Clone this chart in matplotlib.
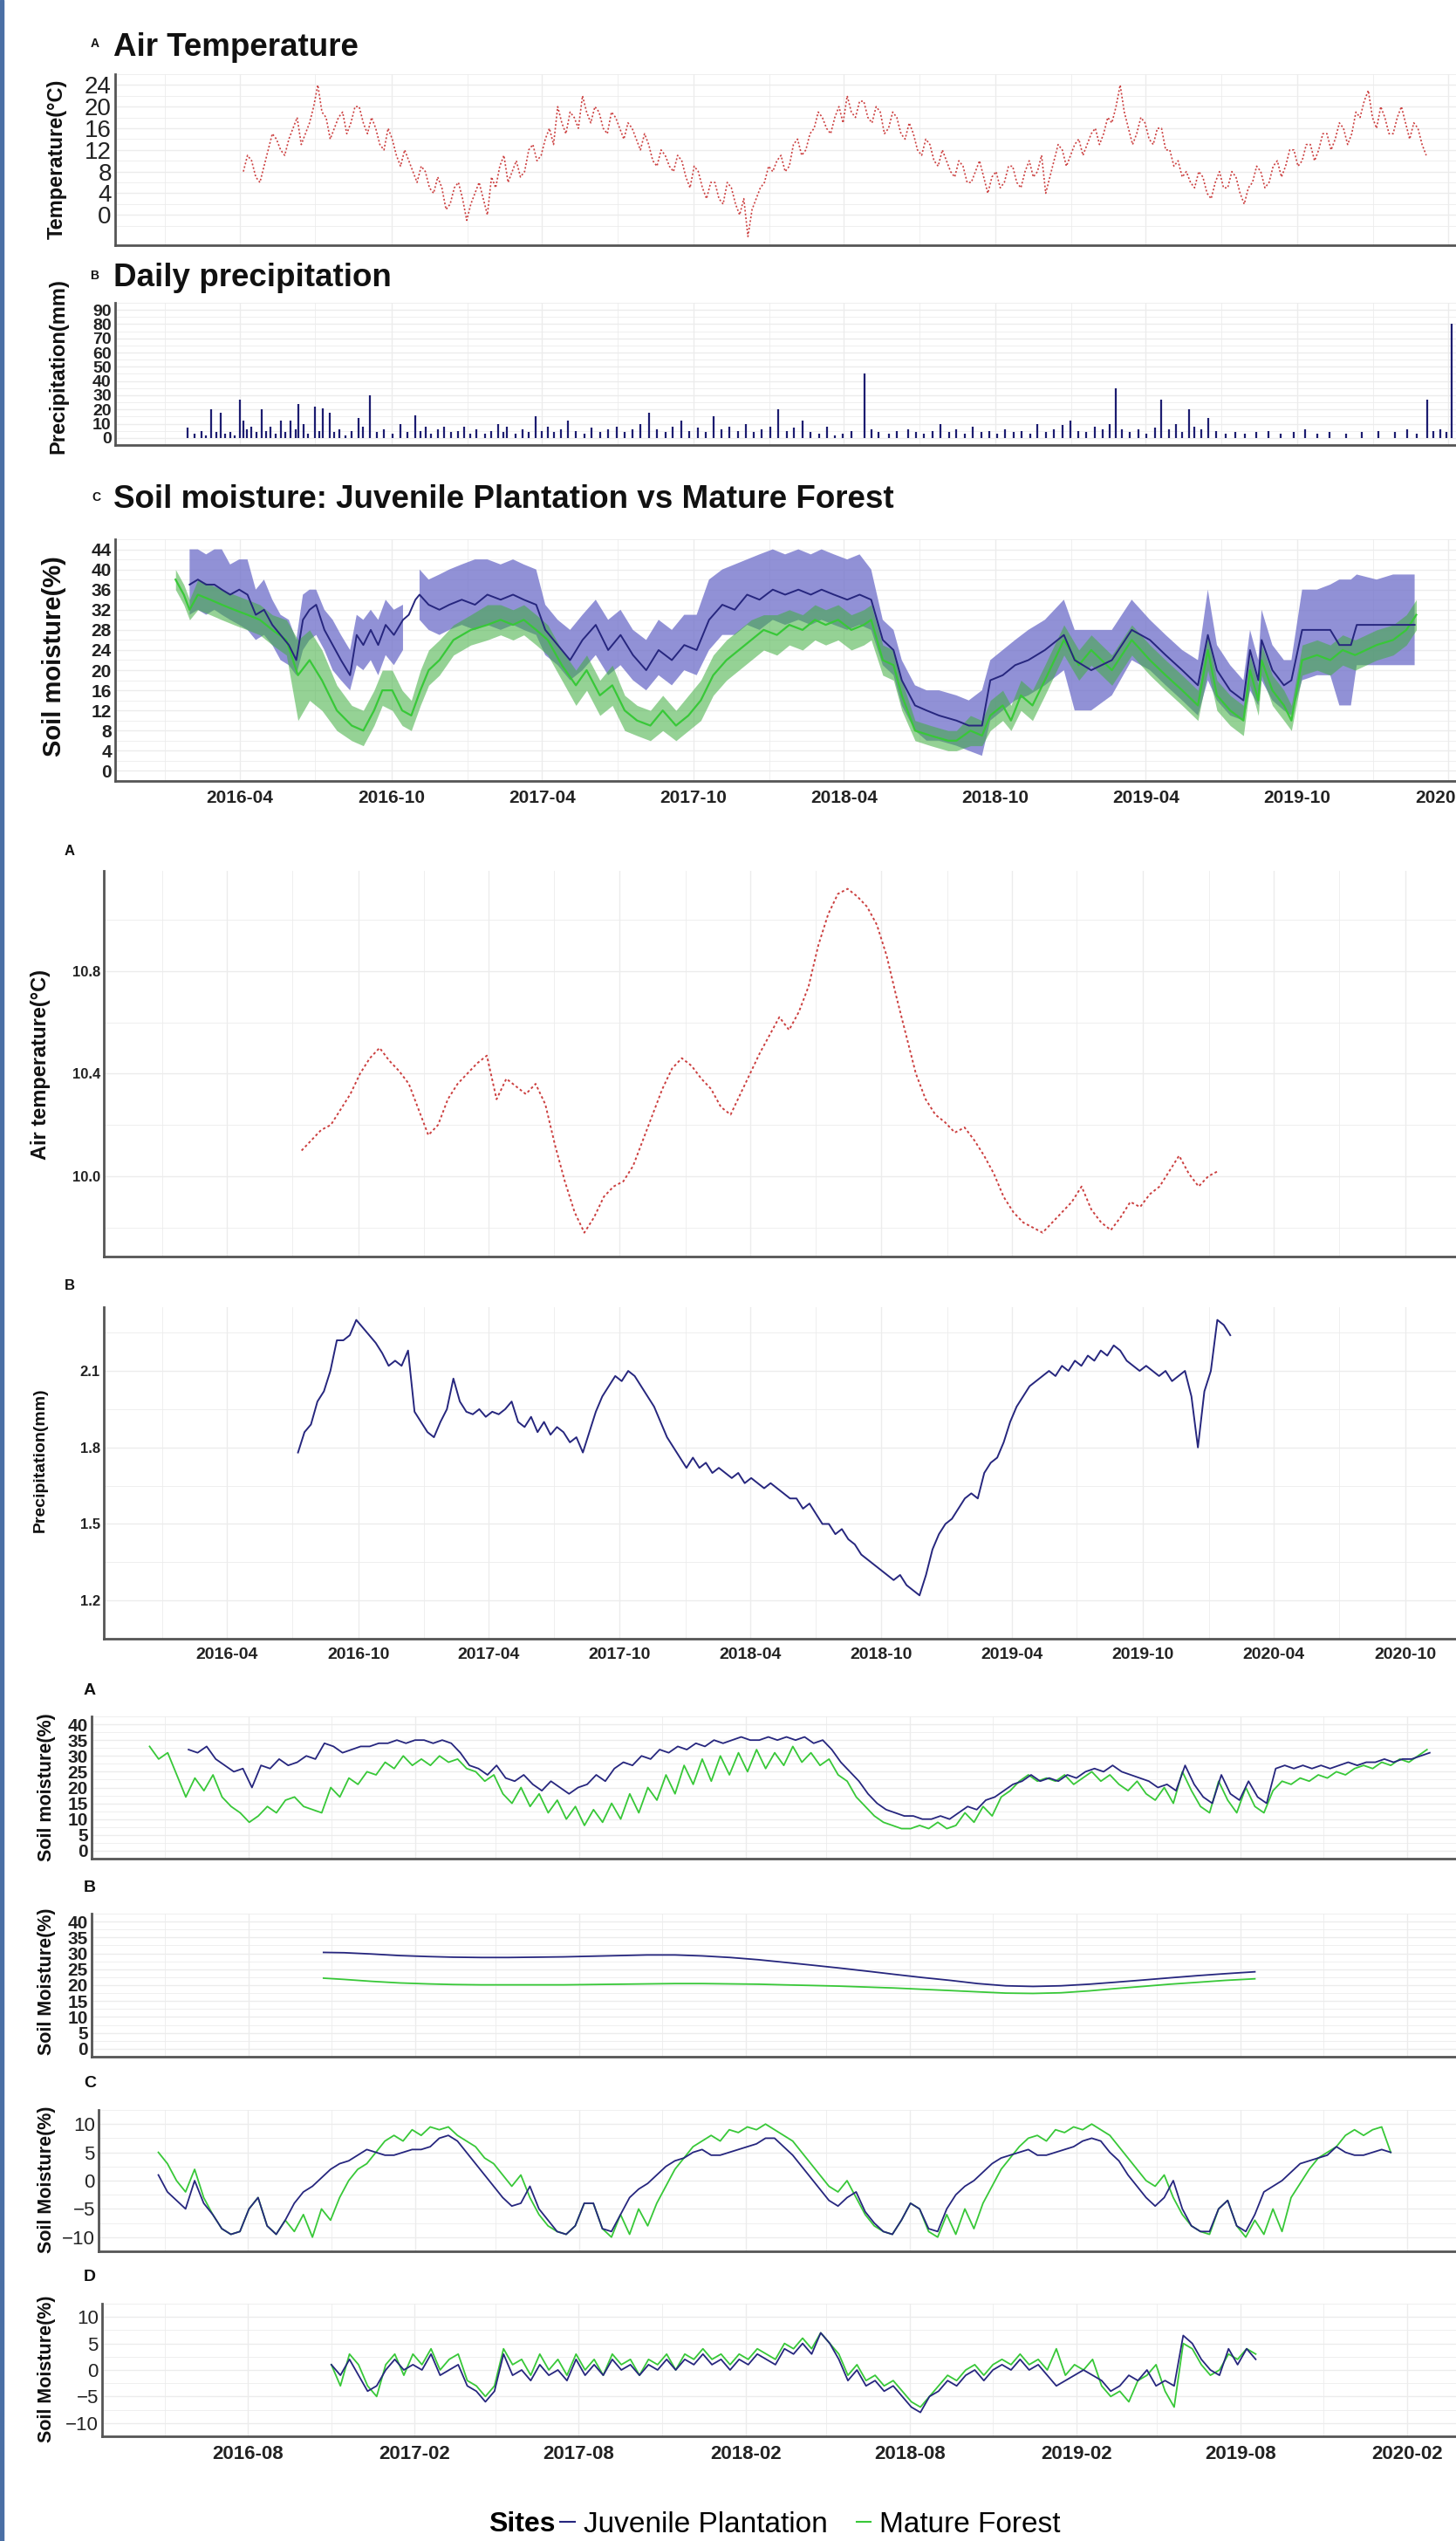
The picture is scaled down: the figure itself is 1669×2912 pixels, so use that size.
import numpy as np
import pandas as pd
import matplotlib
matplotlib.use('Agg')
import matplotlib.pyplot as plt
import matplotlib.dates as mdates
from matplotlib.lines import Line2D
from matplotlib.patches import Rectangle

plt.rcParams['font.family'] = ['Liberation Sans', 'DejaVu Sans']

# ---------------- data ----------------
# top figure, panel A: daily air temperature (5-day samples)
temp_start = '2016-04-05'
temp_c = [8, 11, 10, 7, 6, 9, 12, 15, 14, 12, 11, 14, 16, 18, 13, 15, 17, 20, 24, 19,
          18, 14, 16, 18, 19, 15, 17, 20, 20, 17, 15, 18, 16, 13, 12, 16, 14, 11, 9, 12,
          10, 8, 6, 9, 8, 5, 4, 7, 5, 1, 2, 5, 6, 3, -1, 2, 4, 6, 3, 0,
          7, 5, 9, 11, 6, 8, 10, 7, 8, 12, 13, 10, 11, 14, 16, 13, 20, 17, 15, 19,
          18, 16, 22, 19, 17, 20, 19, 16, 15, 19, 18, 16, 14, 17, 16, 14, 12, 15, 13, 10,
          9, 12, 11, 9, 8, 11, 10, 7, 5, 9, 8, 5, 3, 6, 6, 3, 2, 6, 5, 2,
          0, 3, -4, 1, 3, 5, 6, 9, 8, 10, 11, 8, 9, 13, 14, 11, 12, 15, 16, 19,
          18, 16, 15, 18, 20, 17, 22, 19, 18, 21, 21, 18, 17, 20, 19, 15, 16, 19, 18, 15,
          14, 17, 15, 12, 11, 14, 13, 10, 9, 12, 10, 8, 7, 10, 9, 6, 6, 8, 10, 7,
          4, 7, 8, 5, 6, 9, 9, 6, 5, 8, 10, 7, 8, 11, 4, 7, 10, 13, 12, 9,
          11, 13, 14, 11, 13, 15, 16, 13, 15, 18, 17, 20, 24, 19, 16, 13, 15, 18, 17, 14,
          13, 16, 16, 12, 12, 9, 10, 7, 8, 6, 5, 8, 7, 4, 3, 6, 8, 5, 5, 8,
          7, 4, 2, 5, 6, 9, 8, 5, 6, 9, 10, 7, 9, 12, 12, 9, 10, 13, 13, 10,
          12, 15, 15, 12, 14, 17, 16, 13, 15, 19, 18, 21, 23, 18, 16, 20, 18, 15, 15, 18,
          20, 17, 14, 17, 16, 13, 11]

# top figure, panel B: daily precipitation events (day of record since 2016-01-01, mm)
precip_day = [28, 36, 44, 50, 56, 62, 68, 73, 79, 85, 91, 95, 99, 105, 111, 117, 122, 128, 134, 140,
              146, 152, 158, 162, 168, 173, 181, 187, 191, 199, 205, 211, 218, 226, 234, 240, 248, 256, 265, 275,
              285, 293, 303, 309, 315, 322, 330, 338, 346, 354, 362, 369, 377, 387, 395, 403, 409, 414, 424, 432,
              440, 448, 456, 463, 471, 479, 487, 497, 507, 516, 526, 536, 546, 556, 565, 575, 585, 595, 605, 614,
              624, 634, 644, 654, 663, 673, 683, 693, 703, 712, 722, 732, 742, 752, 761, 771, 781, 791, 801, 810,
              820, 830, 846, 854, 863, 875, 885, 899, 908, 918, 928, 938, 948, 957, 967, 977, 987, 997, 1006, 1016,
              1026, 1036, 1046, 1055, 1065, 1075, 1085, 1095, 1104, 1114, 1124, 1134, 1142, 1150, 1157, 1167, 1177, 1187, 1197, 1205,
              1214, 1222, 1230, 1238, 1245, 1253, 1261, 1271, 1283, 1294, 1306, 1320, 1334, 1349, 1365, 1379, 1393, 1408, 1428, 1447,
              1467, 1487, 1502, 1514, 1526, 1534, 1542, 1549, 1556]
precip_mm = [7, 3, 5, 2, 20, 4, 18, 3, 4, 2, 27, 12, 6, 8, 4, 20, 5, 8, 3, 12,
             4, 12, 6, 24, 10, 3, 22, 5, 21, 18, 4, 6, 2, 5, 14, 8, 30, 4, 6, 3,
             10, 4, 16, 5, 8, 3, 6, 8, 4, 5, 8, 3, 6, 3, 5, 10, 4, 8, 3, 6,
             4, 15, 5, 8, 4, 6, 12, 5, 3, 7, 4, 6, 8, 4, 6, 10, 18, 6, 4, 8,
             12, 5, 7, 4, 15, 6, 8, 5, 10, 4, 6, 8, 20, 5, 7, 12, 4, 3, 8, 2,
             3, 5, 45, 6, 4, 3, 5, 6, 4, 3, 5, 10, 4, 6, 3, 8, 4, 5, 3, 6,
             4, 5, 3, 10, 4, 6, 9, 12, 5, 4, 8, 6, 10, 35, 6, 4, 6, 3, 7, 27,
             6, 10, 4, 20, 8, 6, 14, 5, 3, 4, 3, 4, 5, 3, 4, 6, 3, 4, 3, 4,
             5, 4, 6, 3, 27, 5, 6, 4, 80]

# top figure, panel C: soil moisture mean and range, Juvenile Plantation
jp_dates = ['2016-01-31', '2016-02-10', '2016-02-20', '2016-03-01', '2016-03-10', '2016-03-20', '2016-03-31',
            '2016-04-10', '2016-04-20', '2016-04-30', '2016-05-10', '2016-05-20', '2016-05-30', '2016-06-08',
            '2016-06-16', '2016-06-24', '2016-07-02', '2016-07-12', '2016-07-22', '2016-08-01', '2016-08-12',
            '2016-08-20', '2016-08-28', '2016-09-06', '2016-09-15', '2016-09-24', '2016-10-04', '2016-10-15',
            '2016-10-22', '2016-10-30', '2016-11-04', '2016-11-15', '2016-11-28', '2016-12-10', '2016-12-25',
            '2017-01-10', '2017-01-25', '2017-02-10', '2017-02-25', '2017-03-10', '2017-03-25', '2017-04-05',
            '2017-04-20', '2017-05-05', '2017-05-20', '2017-06-05', '2017-06-20', '2017-07-05', '2017-07-20',
            '2017-08-05', '2017-08-20', '2017-09-05', '2017-09-20', '2017-10-05', '2017-10-20', '2017-11-05',
            '2017-11-20', '2017-12-05', '2017-12-20', '2018-01-05', '2018-01-20', '2018-02-05', '2018-02-20',
            '2018-03-05', '2018-03-20', '2018-04-05', '2018-04-20', '2018-05-04', '2018-05-18', '2018-05-31',
            '2018-06-10', '2018-06-26', '2018-07-10', '2018-07-25', '2018-08-15', '2018-08-30', '2018-09-15',
            '2018-09-25', '2018-10-10', '2018-10-25', '2018-11-10', '2018-11-30', '2018-12-23', '2019-01-05',
            '2019-01-25', '2019-02-19', '2019-03-15', '2019-04-06', '2019-04-25', '2019-05-15', '2019-06-03',
            '2019-06-15', '2019-06-26', '2019-07-12', '2019-07-28', '2019-08-05', '2019-08-15', '2019-08-19',
            '2019-09-01', '2019-09-15', '2019-09-24', '2019-10-07', '2019-10-25', '2019-11-10', '2019-11-21',
            '2019-12-05', '2019-12-12', '2020-01-05', '2020-01-25', '2020-02-20']
jp_mean = [37, 38, 37, 37, 36, 35, 36, 35, 31, 32, 29, 27, 25, 22, 30, 32, 33, 28, 25, 22, 19,
           27, 25, 28, 25, 29, 27, 30, 31, 34, 35, 33, 32, 33, 34, 33, 35, 34, 35, 34, 33, 28,
           25, 22, 26, 29, 24, 27, 23, 20, 24, 22, 25, 24, 30, 33, 32, 35, 34, 36, 35, 36, 35,
           36, 35, 34, 35, 34, 26, 24, 18, 13, 12, 11, 10, 9, 9, 18, 19, 21, 22, 24, 27, 22,
           20, 22, 28, 26, 23, 20, 17, 27, 20, 16, 14, 24, 18, 26, 20, 17, 18, 28, 28, 28, 25,
           25, 29, 29, 29, 29]
jp_lo = [31, 32, 31, 32, 31, 30, 29, 28, 26, 27, 25, 22, 21, 19, 24, 26, 27, 24, 20, 18, 16,
         21, 20, 22, 19, 23, 21, 24, np.nan, np.nan, 30, 28, 27, 28, 29, 28, 29, 28, 29, 28, 27, 23,
         21, 18, 20, 23, 19, 21, 18, 16, 19, 17, 20, 19, 24, 27, 27, 29, 28, 30, 29, 30, 29,
         30, 29, 28, 29, 28, 21, 19, 13, 8, 6, 6, 5, 4, 3, 10, 12, 14, 15, 17, 20, 12,
         12, 15, 22, 20, 17, 14, 11, 18, 14, 11, 10, 16, 13, 18, 14, 12, 11, 18, 19, 19, 13,
         13, 21, 21, 21, 21]
jp_hi = [44, 44, 43, 44, 44, 41, 42, 42, 36, 38, 34, 31, 30, 26, 35, 36, 36, 32, 30, 27, 24,
         31, 30, 32, 30, 34, 32, 33, np.nan, np.nan, 40, 38, 39, 40, 41, 42, 42, 41, 42, 41, 40, 33,
         30, 28, 31, 34, 30, 32, 28, 26, 30, 28, 31, 31, 38, 40, 41, 42, 43, 44, 43, 44, 43,
         44, 43, 42, 43, 40, 30, 28, 22, 17, 16, 16, 15, 14, 16, 22, 24, 26, 28, 30, 34, 28,
         28, 28, 34, 30, 27, 24, 22, 36, 25, 21, 18, 28, 22, 32, 25, 22, 22, 36, 36, 37, 38,
         38, 39, 38, 39, 39]

# top figure, panel C: soil moisture mean and range, Mature Forest
mf_dates = ['2016-01-14', '2016-01-24', '2016-01-31', '2016-02-10', '2016-02-25', '2016-03-10', '2016-03-25',
            '2016-04-10', '2016-04-25', '2016-05-10', '2016-05-27', '2016-06-10', '2016-06-24', '2016-07-09',
            '2016-07-27', '2016-08-14', '2016-08-28', '2016-09-10', '2016-09-20', '2016-10-02', '2016-10-14',
            '2016-10-25', '2016-11-05', '2016-11-15', '2016-11-28', '2016-12-15', '2017-01-05', '2017-01-25',
            '2017-02-10', '2017-02-25', '2017-03-10', '2017-03-25', '2017-04-08', '2017-04-25', '2017-05-12',
            '2017-05-25', '2017-06-10', '2017-06-25', '2017-07-10', '2017-07-25', '2017-08-10', '2017-08-25',
            '2017-09-10', '2017-09-25', '2017-10-10', '2017-10-25', '2017-11-10', '2017-11-25', '2017-12-10',
            '2017-12-25', '2018-01-10', '2018-01-25', '2018-02-10', '2018-02-25', '2018-03-10', '2018-03-25',
            '2018-04-10', '2018-04-25', '2018-05-04', '2018-05-18', '2018-05-31', '2018-06-10', '2018-06-26',
            '2018-07-15', '2018-08-05', '2018-08-15', '2018-09-01', '2018-09-15', '2018-09-25', '2018-10-10',
            '2018-10-20', '2018-11-01', '2018-11-15', '2018-11-30', '2018-12-23', '2019-01-10', '2019-01-25',
            '2019-02-19', '2019-03-15', '2019-04-06', '2019-04-25', '2019-05-15', '2019-06-03', '2019-06-15',
            '2019-06-26', '2019-07-12', '2019-07-28', '2019-08-05', '2019-08-15', '2019-08-19', '2019-09-01',
            '2019-09-15', '2019-09-24', '2019-10-07', '2019-10-25', '2019-11-10', '2019-11-25', '2019-12-10',
            '2020-01-05', '2020-01-25', '2020-02-10', '2020-02-22']
mf_mean = [38, 35, 32, 35, 34, 33, 32, 31, 30, 28, 26, 19, 22, 18, 12, 9, 8, 12, 16, 16, 12,
           11, 16, 20, 22, 26, 28, 29, 30, 29, 30, 28, 26, 21, 17, 20, 15, 17, 12, 10, 9, 12,
           9, 11, 14, 19, 22, 24, 26, 28, 27, 29, 28, 30, 29, 30, 28, 29, 30, 22, 21, 15, 8,
           7, 6, 6, 8, 7, 11, 13, 10, 15, 13, 18, 26, 21, 24, 20, 26, 22, 19, 16, 13, 24,
           15, 12, 10, 20, 14, 22, 16, 13, 10, 22, 23, 22, 24, 23, 25, 26, 28, 31]
mf_lo = [36, 33, 30, 32, 31, 30, 29, 28, 27, 25, 23, 10, 14, 12, 8, 6, 5, 9, 13, 12, 9,
         8, 13, 17, 19, 23, 25, 26, 27, 26, 27, 25, 23, 18, 13, 16, 11, 13, 8, 7, 6, 8,
         6, 8, 10, 15, 18, 20, 22, 24, 23, 25, 24, 26, 25, 26, 24, 25, 26, 19, 18, 12, 6,
         5, 4, 4, 5, 5, 8, 10, 8, 12, 10, 15, 23, 18, 21, 17, 23, 19, 16, 13, 10, 20,
         12, 9, 7, 17, 11, 19, 13, 10, 8, 19, 20, 19, 21, 20, 22, 23, 25, 28]
mf_hi = [40, 37, 34, 38, 37, 36, 35, 34, 33, 31, 30, 26, 28, 24, 17, 13, 12, 16, 20, 20, 16,
         14, 20, 24, 26, 29, 31, 33, 33, 32, 33, 31, 29, 24, 20, 23, 18, 21, 15, 13, 12, 15,
         12, 15, 18, 23, 26, 28, 30, 31, 31, 32, 31, 33, 32, 33, 31, 32, 33, 25, 24, 18, 10,
         9, 8, 8, 11, 10, 14, 16, 13, 18, 16, 21, 29, 24, 27, 23, 29, 25, 22, 19, 16, 27,
         18, 15, 13, 23, 17, 25, 19, 16, 13, 25, 26, 25, 27, 26, 28, 29, 31, 34]

# middle figure, panel A: rolling mean air temperature
tmean_span = ('2016-07-14', '2020-01-14')
tmean_c = [10.10, 10.14, 10.18, 10.20, 10.26, 10.32, 10.40, 10.46, 10.50, 10.45,
           10.41, 10.36, 10.26, 10.16, 10.20, 10.30, 10.36, 10.40, 10.44, 10.47,
           10.30, 10.38, 10.35, 10.32, 10.36, 10.28, 10.12, 9.98, 9.86, 9.78,
           9.84, 9.92, 9.96, 9.98, 10.04, 10.14, 10.24, 10.34, 10.42, 10.46,
           10.43, 10.38, 10.34, 10.27, 10.24, 10.32, 10.40, 10.48, 10.55, 10.62,
           10.57, 10.64, 10.74, 10.90, 11.02, 11.10, 11.12, 11.09, 11.05, 10.98,
           10.86, 10.70, 10.55, 10.40, 10.30, 10.24, 10.21, 10.17, 10.19, 10.14,
           10.08, 10.01, 9.92, 9.86, 9.82, 9.80, 9.78, 9.82, 9.86, 9.90,
           9.96, 9.87, 9.82, 9.79, 9.84, 9.90, 9.88, 9.93, 9.96, 10.02,
           10.08, 10.01, 9.96, 10.00, 10.02]

# middle figure, panel B: rolling mean precipitation
pmean_span = ('2016-07-09', '2020-01-31')
pmean_mm = [1.78, 1.86, 1.89, 1.98, 2.02, 2.10, 2.22, 2.22, 2.24, 2.30,
            2.27, 2.24, 2.21, 2.17, 2.12, 2.14, 2.12, 2.18, 1.94, 1.90,
            1.86, 1.84, 1.90, 1.95, 2.07, 1.98, 1.94, 1.93, 1.95, 1.92,
            1.94, 1.93, 1.95, 1.98, 1.90, 1.88, 1.92, 1.86, 1.90, 1.85,
            1.88, 1.86, 1.82, 1.84, 1.78, 1.86, 1.94, 2.00, 2.04, 2.08,
            2.06, 2.10, 2.08, 2.04, 2.00, 1.96, 1.90, 1.84, 1.80, 1.76,
            1.72, 1.76, 1.72, 1.74, 1.70, 1.72, 1.70, 1.68, 1.70, 1.66,
            1.68, 1.66, 1.64, 1.66, 1.64, 1.62, 1.60, 1.60, 1.56, 1.58,
            1.54, 1.50, 1.50, 1.46, 1.48, 1.44, 1.42, 1.38, 1.36, 1.34,
            1.32, 1.30, 1.28, 1.30, 1.26, 1.24, 1.22, 1.30, 1.40, 1.46,
            1.50, 1.52, 1.56, 1.60, 1.62, 1.60, 1.70, 1.74, 1.76, 1.82,
            1.90, 1.96, 2.00, 2.04, 2.06, 2.08, 2.10, 2.08, 2.12, 2.10,
            2.14, 2.12, 2.16, 2.14, 2.18, 2.16, 2.20, 2.18, 2.14, 2.12,
            2.10, 2.12, 2.10, 2.08, 2.10, 2.06, 2.08, 2.10, 2.00, 1.80,
            2.02, 2.10, 2.30, 2.28, 2.24]

# bottom figure, panel A: soil moisture series (10-day samples)
sm_jp_start = '2016-05-27'
sm_jp = [32, 31, 33, 29, 27, 25, 26, 20, 27, 26, 29, 27, 28, 30, 29, 34, 33, 31, 32, 33,
         33, 34, 34, 35, 34, 35, 35, 34, 35, 34, 31, 27, 26, 24, 27, 23, 22, 24, 21, 19,
         22, 20, 18, 20, 21, 24, 22, 26, 28, 27, 30, 29, 32, 31, 33, 32, 34, 33, 35, 34,
         35, 36, 35, 35, 36, 35, 36, 35, 36, 34, 35, 32, 28, 25, 22, 18, 15, 13, 12, 11,
         11, 10, 10, 11, 10, 12, 14, 13, 16, 17, 19, 21, 22, 24, 22, 23, 22, 24, 23, 25,
         26, 25, 27, 25, 24, 23, 22, 20, 21, 19, 27, 21, 17, 15, 24, 18, 16, 22, 17, 15,
         26, 27, 26, 27, 26, 27, 26, 27, 28, 27, 28, 28, 29, 28, 29, 29, 30, 31]
sm_mf_start = '2016-04-14'
sm_mf = [33, 29, 31, 24, 17, 23, 19, 24, 17, 14, 12, 9, 11, 14, 12, 16, 17, 14, 13, 12,
         20, 17, 23, 21, 25, 24, 28, 26, 30, 27, 29, 27, 30, 28, 29, 26, 25, 22, 24, 18,
         15, 20, 14, 18, 12, 16, 10, 14, 8, 13, 9, 15, 10, 18, 12, 20, 16, 24, 18, 27,
         21, 29, 22, 30, 24, 31, 25, 32, 26, 31, 27, 33, 28, 31, 27, 29, 24, 22, 17, 14,
         11, 9, 8, 7, 7, 8, 7, 9, 7, 8, 12, 9, 14, 11, 17, 19, 22, 24, 22, 23,
         22, 24, 21, 23, 25, 22, 24, 21, 19, 22, 18, 16, 20, 15, 25, 19, 14, 12, 22, 16,
         12, 20, 14, 12, 19, 22, 21, 23, 22, 24, 23, 25, 24, 26, 27, 26, 28, 27, 29, 28,
         30, 32]

# bottom figure, panel B: trend component
trend_dates = ['2016-10-23', '2016-11-15', '2016-12-15', '2017-01-15', '2017-02-15', '2017-03-15',
               '2017-04-15', '2017-05-15', '2017-06-15', '2017-07-15', '2017-08-15', '2017-09-15',
               '2017-10-15', '2017-11-15', '2017-12-15', '2018-01-15', '2018-02-15', '2018-03-15',
               '2018-04-15', '2018-05-15', '2018-06-15', '2018-07-15', '2018-08-15', '2018-09-15',
               '2018-10-15', '2018-11-15', '2018-12-15', '2019-01-15', '2019-02-15', '2019-03-15',
               '2019-04-15', '2019-05-15', '2019-06-15', '2019-07-15', '2019-08-17']
trend_jp = [30.3, 30.2, 29.8, 29.3, 29.0, 28.8, 28.7, 28.7, 28.8, 28.9, 29.1, 29.3,
            29.5, 29.5, 29.2, 28.7, 28.0, 27.2, 26.3, 25.4, 24.4, 23.4, 22.4, 21.5,
            20.5, 19.8, 19.6, 19.8, 20.3, 20.9, 21.6, 22.3, 23.0, 23.6, 24.2]
trend_mf = [22.2, 21.8, 21.2, 20.7, 20.4, 20.2, 20.1, 20.1, 20.1, 20.1, 20.2, 20.3,
            20.4, 20.5, 20.5, 20.4, 20.3, 20.1, 19.9, 19.7, 19.4, 19.1, 18.7, 18.3,
            17.9, 17.5, 17.4, 17.6, 18.2, 18.9, 19.6, 20.3, 20.9, 21.5, 22.0]

# bottom figure, panel C: seasonal component (10-day samples)
seas_start = '2016-04-24'
seas_jp = [1, -2, -3.5, -5, 0, -4, -6, -8.5, -9.5, -9, -5, -3, -8, -9.5, -7, -4, -2, -1, 0.5, 2,
           3, 3.5, 4.5, 5.5, 5, 4.5, 4.5, 5, 5.5, 5.5, 6, 7.5, 8, 7, 5, 3, 1,
           -1, -3, -4.5, -4, -1, -5, -7, -9, -9.5, -8, -4, -4, -8.5, -9, -6, -3, -1.5, -0.5, 1,
           2.5, 3.5, 4, 5, 5.5, 4.5, 4.5, 5, 5.5, 6, 6.5, 7.5, 7.5, 6, 4.5, 2.5, 0.5,
           -1.5, -3.5, -4.5, -3, -2, -5.5, -7.5, -9, -9.5, -7, -4, -5, -8.5, -9, -5, -2.5, -1, 0,
           1.5, 3, 4, 4.5, 5, 5.5, 4.5, 4.5, 5, 5.5, 6, 7, 7.5, 7, 5, 3.5, 1, -1,
           -3, -4.5, -3, 0, -5, -8, -9, -9, -5, -3.5, -8, -9, -6, -2, -1, 0, 1.5, 3, 3.5,
           4, 4.5, 6, 5, 4.5, 4.5, 5, 5.5, 5]
seas_mf = [5, 3, 0, -2, 2, -3, -6, -8.5, -9.5, -9, -5, -3, -8, -9.5, -7, -9, -6, -10, -5, -7,
           -3, 0, 2, 3, 5, 7, 8, 7, 9, 8, 9.5, 9, 9.5, 8, 7, 6, 4,
           3, 1, -1, 1, -3, -6, -8, -9, -9.5, -8, -4, -4, -8.5, -10, -6, -9.5, -5, -8, -4,
           -1, 2, 4, 6, 7, 8, 7, 9, 8.5, 9.5, 9, 10, 9, 8, 7, 5, 3,
           1, -1, -2, 0, -3, -6, -8, -9, -9.5, -7, -4, -5, -9, -10, -6, -9.5, -5, -8.5, -4,
           -1, 2, 4, 6, 7.5, 8, 7, 9, 8.5, 9.5, 9, 10, 9, 8, 6, 4, 2,
           0, -1, 1, -3, -6, -8, -9, -9.5, -5, -3.5, -8, -10, -7, -9.5, -5, -9, -3, -0.5, 2,
           4, 5, 6, 8, 9, 8, 9, 9.5, 5]

# bottom figure, panel D: remainder component (10-day samples)
rem_start = '2016-11-01'
rem_jp = [1, -1, 2, -1, -4, -3, 0,
          2, 0, 1, 0, 3, -1, 0, 1, -3, -4, -6, -4, 3, -1, 0, -2, 1, -1, 0, -2, 2, -1, 1,
          -1, 2, 0, 1, -1, 1, 0, 2, 0, 2, 1, 3, 1,
          2, 0, 2, 1, 3, 2, 1, 4, 3, 5, 3, 7, 5, 2, -2, 0, -3, -2, -4, -3, -5, -7, -8,
          -5, -4, -2, -3, -1, 0, -2, 0, 1, 0, 2, 0, 1, -1,
          -3, -2, -1, 0, -1, -2, -4, -3, -1, -2, 0, -3, -2, -3, 6.5, 5, 2, 0, -1, 4, 1, 4, 2]
rem_mf = [1, -3, 3, 1, -3, -5, 1,
          3, -1, 3, 1, 4, 0, 2, 3, -2, -3, -5, -3, 4, 1, 2, -1, 3, 0, 2, -1, 3, 0, 2,
          -1, 3, 1, 2, -1, 2, 1, 3, 0, 3, 2, 4, 2,
          3, 1, 3, 2, 4, 3, 2, 5, 4, 6, 4, 7, 5, 3, -1, 1, -2, -1, -3, -2, -4, -6, -7,
          -5, -3, -1, -2, 0, 1, -1, 1, 2, 1, 3, 1, 2, 0,
          4, -1, 1, 0, 2, -3, -5, -4, -6, -2, -1, 1, -4, -7, 5, 4, 1, -1, 0, 3, 2, 4, 3]

site_labels = ['Juvenile Plantation', 'Mature Forest']

# ---------------- styling ----------------
W, H = 1669, 2912
RED = '#cc4040'
NAVY = '#26267e'
GREEN = '#38c838'
GRID = '#ececec'
AXC = '#555555'

fig = plt.figure(figsize=(W / 100, H / 100), dpi=100)
fig.patches.append(Rectangle((0, 0), 4 / W, 1, transform=fig.transFigure,
                             color='#4a6fa5', zorder=10))


def panel(l, t, r, b):
    return fig.add_axes([l / W, 1 - b / H, (r - l) / W, (b - t) / H])


def style(ax, xlim, major, minor, ylim, yticks, yfs, yweight='bold', xlabels=False, xfs=15):
    ax.set_xlim(pd.Timestamp(xlim[0]), pd.Timestamp(xlim[1]))
    ax.set_ylim(*ylim)
    ax.set_yticks(yticks)
    ax.xaxis.set_major_locator(mdates.MonthLocator(bymonth=major))
    ax.xaxis.set_minor_locator(mdates.MonthLocator(bymonth=minor))
    ax.xaxis.set_major_formatter(mdates.DateFormatter('%Y-%m'))
    step = yticks[1] - yticks[0]
    ax.set_yticks(np.arange(yticks[0] - step / 2, yticks[-1] + step, step), minor=True)
    ax.grid(which='major', color=GRID, lw=1.0)
    ax.grid(which='minor', color=GRID, lw=0.6)
    ax.set_axisbelow(True)
    for s in ['top', 'right']:
        ax.spines[s].set_visible(False)
    for s in ['left', 'bottom']:
        ax.spines[s].set_color(AXC)
        ax.spines[s].set_linewidth(2)
    ax.tick_params(which='both', length=0, pad=3)
    ax.tick_params(axis='y', labelsize=yfs, colors='#222222')
    for lab in ax.get_yticklabels():
        lab.set_fontweight(yweight)
    if xlabels:
        ax.tick_params(axis='x', labelsize=xfs, colors='#222222', pad=7)
        for lab in ax.get_xticklabels():
            lab.set_fontweight('bold')
    else:
        ax.tick_params(axis='x', labelbottom=False)


def ylab(x, y, text, size):
    fig.text(x / W, 1 - y / H, text, rotation=90, ha='center', va='center',
             fontsize=size, fontweight='bold', color='#111111')


def letter(x, y, text, size):
    fig.text(x / W, 1 - y / H, text, ha='left', va='center', fontsize=size,
             fontweight='bold', color='#111111')


TOP_X = ('2015-11-02', '2020-04-10')
MID_X = ('2015-10-12', '2020-12-11')

# ---- top figure ----
ax1 = panel(132, 85, W, 281)
t_dates = pd.date_range(temp_start, periods=len(temp_c), freq='5D')
ax1.plot(t_dates, temp_c, color=RED, lw=1.2, ls=(0, (1.2, 1.4)))
style(ax1, TOP_X, [4, 10], [1, 7], (-5.6, 24.8), list(range(0, 25, 4)), 20, yweight='normal')
letter(104, 50, 'A', 10)
letter(130, 55, 'Air Temperature', 26.5)
ylab(65, 182, 'Temperature(°C)', 17)

ax2 = panel(132, 347, W, 510)
p_dates = pd.Timestamp('2016-01-01') + pd.to_timedelta(precip_day, unit='D')
ax2.vlines(p_dates, 0, precip_mm, color='#1c1c70', lw=1.6)
style(ax2, TOP_X, [4, 10], [1, 7], (-0.5, 92), list(range(0, 91, 10)), 14)
letter(103, 316, 'B', 10)
letter(130, 318, 'Daily precipitation', 26.5)
ylab(67, 420, 'Precipitation(mm)', 17)

ax3 = panel(132, 618, W, 895)
jd = pd.to_datetime(jp_dates)
md = pd.to_datetime(mf_dates)
ax3.fill_between(jd, jp_lo, jp_hi, color='#6d6dc9', alpha=0.75, lw=0)
ax3.fill_between(md, mf_lo, mf_hi, color='#3fae3f', alpha=0.55, lw=0)
ax3.plot(md, mf_mean, color=GREEN, lw=1.6)
ax3.plot(jd, jp_mean, color=NAVY, lw=1.4)
style(ax3, TOP_X, [4, 10], [1, 7], (-2, 45.2), list(range(0, 45, 4)), 15, xlabels=True, xfs=15)
letter(105, 570, 'C', 10)
letter(130, 572, 'Soil moisture: Juvenile Plantation vs Mature Forest', 26.5)
ylab(62, 752, 'Soil moisture(%)', 21)

# ---- middle figure ----
ax4 = panel(119, 998, W, 1440)
ax4.plot(pd.date_range(*tmean_span, periods=len(tmean_c)), tmean_c, color=RED, lw=1.4,
         ls=(0, (1.5, 1.5)))
style(ax4, MID_X, [4, 10], [1, 7], (9.687, 11.19), [10.0, 10.4, 10.8], 12)
ax4.set_yticks([9.8, 10.2, 10.6, 11.0], minor=True)
letter(74, 975, 'A', 12)
ylab(46, 1220, 'Air temperature(°C)', 17)

ax5 = panel(119, 1498, W, 1878)
ax5.plot(pd.date_range(*pmean_span, periods=len(pmean_mm)), pmean_mm, color=NAVY, lw=1.4)
style(ax5, MID_X, [4, 10], [1, 7], (1.166, 2.35), [1.2, 1.5, 1.8, 2.1], 12, xlabels=True, xfs=14)
ax5.set_yticks([1.35, 1.65, 1.95, 2.25], minor=True)
letter(74, 1473, 'B', 12)
ylab(46, 1673, 'Precipitation(mm)', 14)

# ---- bottom figure ----
BOT = [2, 8]
BOTm = [5, 11]
ax6 = panel(105, 1967, W, 2130)
ax6.plot(pd.date_range(sm_mf_start, periods=len(sm_mf), freq='10D'), sm_mf, color=GREEN, lw=1.3)
ax6.plot(pd.date_range(sm_jp_start, periods=len(sm_jp), freq='10D'), sm_jp, color=NAVY, lw=1.3)
style(ax6, ('2016-02-10', '2020-03-26'), BOT, BOTm, (-0.8, 41.3), list(range(0, 41, 5)), 15)
letter(96, 1937, 'A', 14)
ylab(54, 2048, 'Soil moisture(%)', 15.5)

ax7 = panel(105, 2193, W, 2357)
td = pd.to_datetime(trend_dates)
ax7.plot(td, trend_mf, color=GREEN, lw=1.3)
ax7.plot(td, trend_jp, color=NAVY, lw=1.3)
style(ax7, ('2016-02-10', '2020-03-26'), BOT, BOTm, (-1, 41.8), list(range(0, 41, 5)), 15)
letter(96, 2163, 'B', 14)
ylab(54, 2271, 'Soil Moisture(%)', 15.5)

ax8 = panel(113, 2418, W, 2580)
sd = pd.date_range(seas_start, periods=len(seas_jp), freq='10D')
ax8.plot(sd, seas_mf, color=GREEN, lw=1.3)
ax8.plot(sd, seas_jp, color=NAVY, lw=1.3)
style(ax8, ('2016-02-18', '2020-03-26'), BOT, BOTm, (-10.7, 10.9), [-10, -5, 0, 5, 10], 16,
      yweight='normal')
letter(96, 2388, 'C', 14)
ylab(54, 2498, 'Soil Moisture(%)', 15.5)

ax9 = panel(117, 2640, W, 2792)
rd = pd.date_range(rem_start, periods=len(rem_jp), freq='10D')
ax9.plot(rd, rem_mf, color=GREEN, lw=1.3)
ax9.plot(rd, rem_jp, color=NAVY, lw=1.3)
style(ax9, ('2016-02-22', '2020-03-26'), BOT, BOTm, (-10.7, 11), [-10, -5, 0, 5, 10], 16,
      yweight='normal', xlabels=True, xfs=16)
letter(96, 2610, 'D', 14)
ylab(54, 2715, 'Soil Moisture(%)', 15.5)

# legend
fig.text(560 / W, 1 - 2893 / H, 'Sites', ha='left', va='center', fontsize=23, fontweight='bold')
handles = [Line2D([], [], color=NAVY, lw=1.5), Line2D([], [], color=GREEN, lw=1.5)]
fig.legend(handles, site_labels, loc='center left', bbox_to_anchor=(642 / W, 1 - 2893 / H),
           ncol=2, frameon=False, fontsize=24, handlelength=0.5, handletextpad=0.3,
           columnspacing=1.0, borderaxespad=0, borderpad=0)

fig.savefig('out.png', dpi=100)
